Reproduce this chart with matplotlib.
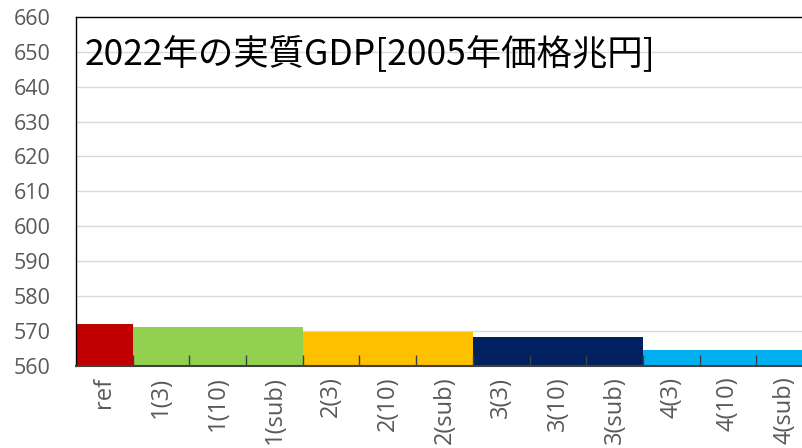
import matplotlib
matplotlib.use("Agg")
import matplotlib.pyplot as plt
import numpy as np

categories = ["ref", "1(3)", "1(10)", "1(sub)", "2(3)", "2(10)", "2(sub)",
              "3(3)", "3(10)", "3(sub)", "4(3)", "4(10)", "4(sub)"]
values = [572.0, 571.1, 571.1, 571.1, 569.6, 569.6, 569.6,
          568.2, 568.2, 568.2, 564.4, 564.4, 564.4]
group_colors = ["#C00000", "#92D050", "#92D050", "#92D050", "#FFC000", "#FFC000", "#FFC000",
                "#002060", "#002060", "#002060", "#00B0F0", "#00B0F0", "#00B0F0"]
title = "2022年の実質GDP[2005年価格兆円]"
y_min, y_max, y_step = 560, 660, 10

plt.rcParams['font.family'] = ['Noto Sans CJK JP', 'DejaVu Sans']

fig = plt.figure(figsize=(8.03, 4.48), dpi=100)
ax = fig.add_axes([76/803, (448-365.5)/448, (813-76)/803, (365.5-17)/448])

x = np.arange(len(categories))
ax.bar(x, [v - y_min for v in values], bottom=y_min, width=1.0,
       color=group_colors, zorder=1, linewidth=0)

ax.set_xlim(-0.5, len(categories) - 0.5)
ax.set_ylim(y_min, y_max)
yt = np.arange(y_min, y_max + 1, y_step)
ax.set_yticks(yt)
ax.hlines(yt[1:-1], -0.5, len(categories) - 0.5, colors="#D9D9D9", linewidth=1.0, zorder=0)

ax.set_xticks(np.arange(0.5, len(categories) - 0.5, 1.0))
ax.set_xticklabels([])
ax.tick_params(axis='x', which='major', direction='in', length=8, color="#404040", width=1)
ax.set_xticks(x, minor=True)
ax.set_xticklabels(categories, minor=True, rotation=90, fontsize=17, color="#595959",
                   fontfamily=['Open Sans', 'DejaVu Sans'])
ax.tick_params(axis='x', which='minor', length=0, pad=8)

ax.tick_params(axis='y', length=0, pad=18, labelsize=15.5, labelcolor="#595959")
for lab in ax.get_yticklabels():
    lab.set_fontfamily(['Open Sans', 'DejaVu Sans'])

for s in ['top', 'left', 'right']:
    ax.spines[s].set_color("#000000")
    ax.spines[s].set_linewidth(1.0)
ax.spines['bottom'].set_color("#404040")
ax.spines['bottom'].set_linewidth(1.5)

ax.text(0.012, 0.895, title, transform=ax.transAxes, fontsize=25.5, color="black",
        ha='left', va='center', fontfamily=['Noto Sans CJK JP', 'DejaVu Sans'])

fig.savefig("out.png", dpi=100)
